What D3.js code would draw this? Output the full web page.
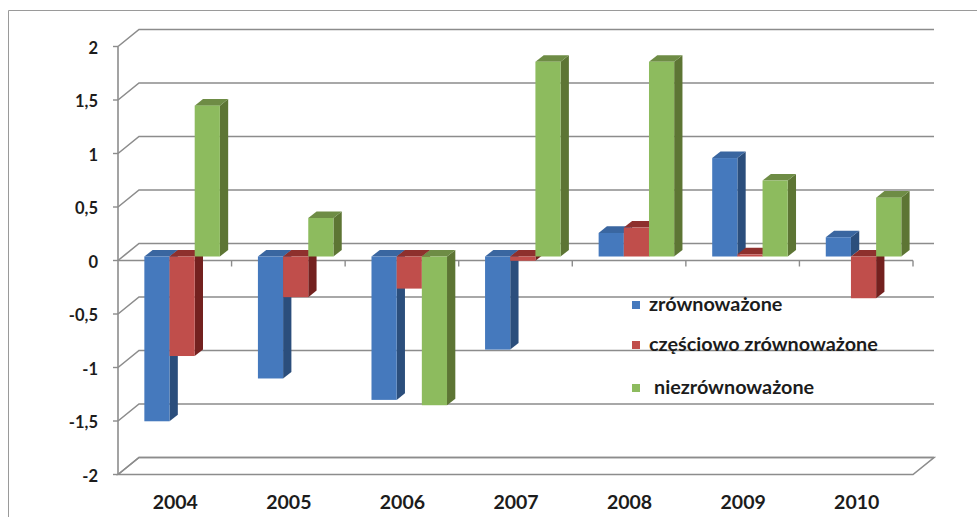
<!DOCTYPE html>
<html>
<head>
<meta charset="utf-8">
<script src="https://cdn.jsdelivr.net/npm/d3@7/dist/d3.min.js"></script>
<style>
  html, body { margin: 0; padding: 0; background: #ffffff; }
  svg { display: block; }
  text { font-family: Lato, "Open Sans", "DejaVu Sans", sans-serif; font-weight: 700; fill: #1c1c1c; }
</style>
</head>
<body>
<svg id="chart" width="977" height="517"></svg>
<script>
// Categories and series
const years = ["2004", "2005", "2006", "2007", "2008", "2009", "2010"];
const seriesNames = ["zrównoważone", "częściowo zrównoważone", "niezrównoważone"];
const zrownowazone = [-1.54, -1.14, -1.34, -0.87, 0.22, 0.92, 0.18];
const czesciowoZrownowazone = [-0.93, -0.38, -0.30, -0.04, 0.27, 0.02, -0.39];
const niezrownowazone = [1.41, 0.36, -1.39, 1.82, 1.82, 0.71, 0.55];
const yTicks = [-2, -1.5, -1, -0.5, 0, 0.5, 1, 1.5, 2];

const seriesValues = [zrownowazone, czesciowoZrownowazone, niezrownowazone];

// Face colours per series: front, right side, top
const palette = [
  { front: "#4579BD", side: "#2B4E7C", top: "#3A66A0" },
  { front: "#C04E4B", side: "#73211F", top: "#8E302D" },
  { front: "#8DBB5E", side: "#5D7534", top: "#6E8C45" }
];

const svg = d3.select("#chart");
const W = 977, H = 517;

// Oblique 3D frame: wall depth offset and bar depth offsets
const wallDx = 21, wallDy = -17;
const barPlaneDy = -4;          // bars sit slightly behind the front plane
const barDx = 8.3, barDy = -6.6; // bar depth

const y = d3.scaleLinear().domain([-2, 2]).range([474.5, 46.5]);
const x = d3.scaleBand().domain(years).range([118, 913]).paddingInner(0).paddingOuter(0);
const groupOffset = x.bandwidth() * 0.232;
const xs = d3.scaleBand().domain(seriesNames).range([0, x.bandwidth() * 0.665]);

const fmt = d3.formatLocale({ decimal: ",", thousands: " ", grouping: [3], currency: ["", " zł"], minus: "-" }).format("~g");

const grid = "#8C8C8C";

// Outer frame
svg.append("path")
  .attr("d", `M8.5,${H} V10.5 H${W}`)
  .attr("fill", "none").attr("stroke", "#9a9a9a").attr("stroke-width", 1);

const axisG = svg.append("g");
const x0 = x.range()[0], x1 = x.range()[1];

// Floor (at the minimum)
axisG.append("path")
  .attr("d", `M${x0},${y(-2)} L${x0 + wallDx},${y(-2) + wallDy} L${x1 + wallDx},${y(-2) + wallDy} L${x1},${y(-2)} Z`)
  .attr("fill", "none").attr("stroke", grid).attr("stroke-width", 1.6);

// Back-wall gridlines with side-wall diagonals
yTicks.forEach(v => {
  axisG.append("path")
    .attr("d", `M${x0},${y(v)} L${x0 + wallDx},${y(v) + wallDy} L${x1 + wallDx},${y(v) + wallDy}`)
    .attr("fill", "none").attr("stroke", grid).attr("stroke-width", 1.6);
});

// Value axis line and ticks
axisG.append("line")
  .attr("x1", x0).attr("x2", x0).attr("y1", y(2)).attr("y2", y(-2))
  .attr("stroke", grid).attr("stroke-width", 1.6);
yTicks.forEach(v => {
  axisG.append("line")
    .attr("x1", x0 - 5).attr("x2", x0).attr("y1", y(v)).attr("y2", y(v))
    .attr("stroke", grid).attr("stroke-width", 1.4);
});

// Value axis labels
svg.append("g").selectAll("text").data(yTicks).join("text")
  .attr("x", 98).attr("y", d => y(d) + 1.5)
  .attr("dy", "0.36em")
  .attr("text-anchor", "end")
  .attr("font-size", 16.5)
  .text(d => fmt(d));

// Category axis at zero (front plane)
axisG.append("line")
  .attr("x1", x0).attr("x2", x1).attr("y1", y(0)).attr("y2", y(0))
  .attr("stroke", grid).attr("stroke-width", 1.6);
years.forEach(yr => {
  const xe = x(yr) + x.bandwidth();
  axisG.append("line")
    .attr("x1", xe).attr("x2", xe).attr("y1", y(0)).attr("y2", y(0) + 6)
    .attr("stroke", grid).attr("stroke-width", 1.4);
});

// Bars: front face, right side and top, drawn left to right
const barsG = svg.append("g");
const bars = [];
years.forEach((yr, i) => {
  seriesNames.forEach((s, k) => {
    bars.push({ year: yr, series: k, value: seriesValues[k][i], name: s });
  });
});

bars.forEach(b => {
  const c = palette[b.series];
  const bx = x(b.year) + groupOffset + xs(b.name);
  const bw = xs.bandwidth();
  const yTop = y(Math.max(b.value, 0)) + barPlaneDy;
  const yBot = y(Math.min(b.value, 0)) + barPlaneDy;
  const g = barsG.append("g");
  // right side
  g.append("path")
    .attr("d", `M${bx + bw},${yTop} L${bx + bw + barDx},${yTop + barDy} L${bx + bw + barDx},${yBot + barDy} L${bx + bw},${yBot} Z`)
    .attr("fill", c.side);
  // top
  g.append("path")
    .attr("d", `M${bx},${yTop} L${bx + barDx},${yTop + barDy} L${bx + bw + barDx},${yTop + barDy} L${bx + bw},${yTop} Z`)
    .attr("fill", c.top);
  // front
  g.append("rect")
    .attr("x", bx).attr("y", yTop)
    .attr("width", bw).attr("height", Math.max(yBot - yTop, 0.5))
    .attr("fill", c.front);
});

// Category labels
svg.append("g").selectAll("text").data(years).join("text")
  .attr("x", d => x(d) + x.bandwidth() / 2 + 0.5)
  .attr("y", 509)
  .attr("text-anchor", "middle")
  .attr("font-size", 19.5)
  .text(d => d);

// Legend
const legendRows = [
  { label: "zrównoważone", y: 305, tx: 649 },
  { label: "częściowo zrównoważone", y: 345, tx: 649 },
  { label: "niezrównoważone", y: 388, tx: 654 }
];
const lg = svg.append("g");
legendRows.forEach((r, k) => {
  lg.append("rect")
    .attr("x", 632).attr("y", r.y - 4).attr("width", 8).attr("height", 8)
    .attr("fill", palette[k].front);
  lg.append("text")
    .attr("x", r.tx).attr("y", r.y + 5.5)
    .attr("font-size", 19.8)
    .text(r.label);
});
</script>
</body>
</html>
